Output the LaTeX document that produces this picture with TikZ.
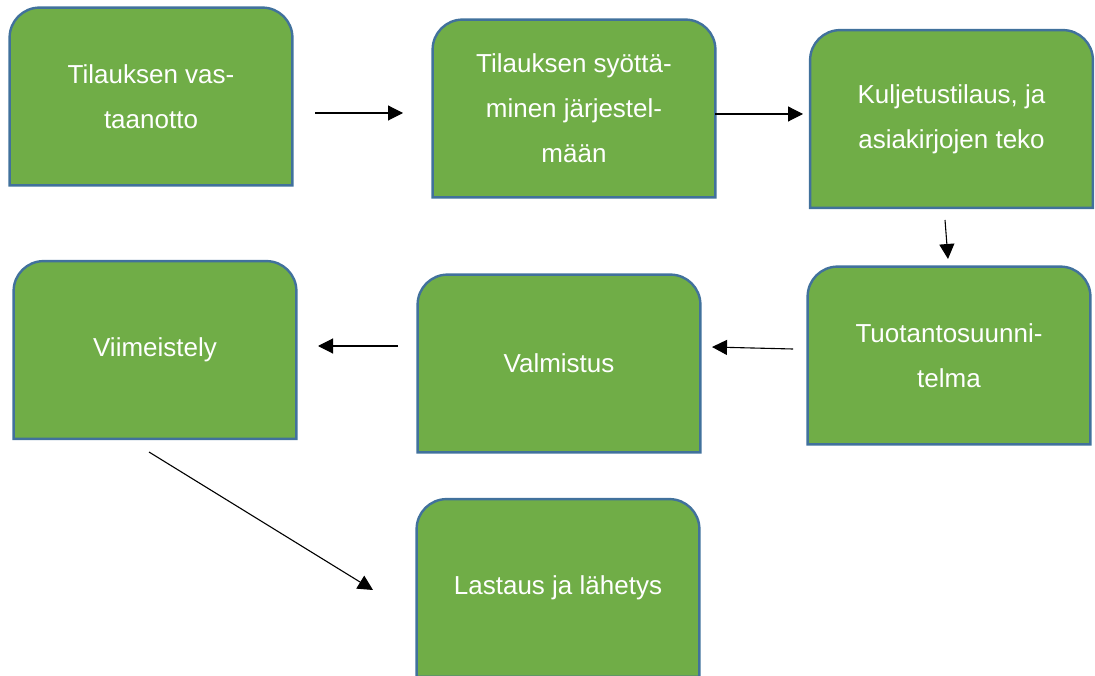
\documentclass[tikz,border=0pt]{standalone}
\usepackage{fontspec}
\setmainfont{Liberation Sans}
\usetikzlibrary{arrows.meta,backgrounds}
\definecolor{boxgreen}{HTML}{70AD47}
\definecolor{boxblue}{HTML}{41719C}
\tikzset{
  boxnode/.style={rectangle, inner sep=0pt, minimum width=141pt, minimum height=88.5pt},
  boxline/.style={fill=boxgreen, draw=boxblue, line width=1.2pt},
  txt/.style={text=white, align=center, font=\fontsize{13}{22.5}\selectfont},
  arr/.style={line width=0.55pt, -{Triangle[length=7.5pt,width=7.5pt]}}
}
\newcommand{\topround}[1]{%
  \begin{pgfonlayer}{background}
  \draw[boxline] (#1.south west) -- ([yshift=-15pt]#1.north west)
    arc[start angle=180,end angle=90,radius=15pt]
    -- ([xshift=-15pt]#1.north east)
    arc[start angle=90,end angle=0,radius=15pt]
    -- (#1.south east) -- cycle;
  \end{pgfonlayer}}
\begin{document}
\begin{tikzpicture}[x=0.5pt,y=0.5pt]
\useasboundingbox (0,0) rectangle (1095,675);
\clip (0,0) rectangle (1095,675);
\node[boxnode,txt] (b1) at (151,578.5) {Tilauksen vas-\\taanotto};
\node[boxnode,txt] (b2) at (574,566.5) {Tilauksen syöttä-\\minen järjestel-\\mään};
\node[boxnode,txt] (b3) at (951.5,556) {Kuljetustilaus, ja\\asiakirjojen teko};
\node[boxnode,txt] (b4) at (949,319.5) {Tuotantosuunni-\\telma};
\node[boxnode,txt] (b5) at (559,311.5) {Valmistus};
\node[boxnode,txt] (b6) at (155,325) {Viimeistely};
\node[boxnode,txt] (b7) at (558,87) {Lastaus ja lähetys};
\topround{b1}\topround{b2}\topround{b3}\topround{b4}\topround{b5}\topround{b6}\topround{b7}
\coordinate (a1s) at (315,562); \coordinate (a1e) at (403,562);
\coordinate (a2s) at (715,561); \coordinate (a2e) at (803,561);
\coordinate (a3s) at (945,455); \coordinate (a3e) at (948,416);
\coordinate (a4s) at (793,326); \coordinate (a4e) at (712,328);
\coordinate (a5s) at (398,329); \coordinate (a5e) at (318,329);
\coordinate (a6s) at (149,223); \coordinate (a6e) at (373,85);
\draw[arr] (a1s) -- (a1e);
\draw[arr] (a2s) -- (a2e);
\draw[arr] (a3s) -- (a3e);
\draw[arr] (a4s) -- (a4e);
\draw[arr] (a5s) -- (a5e);
\draw[arr] (a6s) -- (a6e);
\end{tikzpicture}
\end{document}
